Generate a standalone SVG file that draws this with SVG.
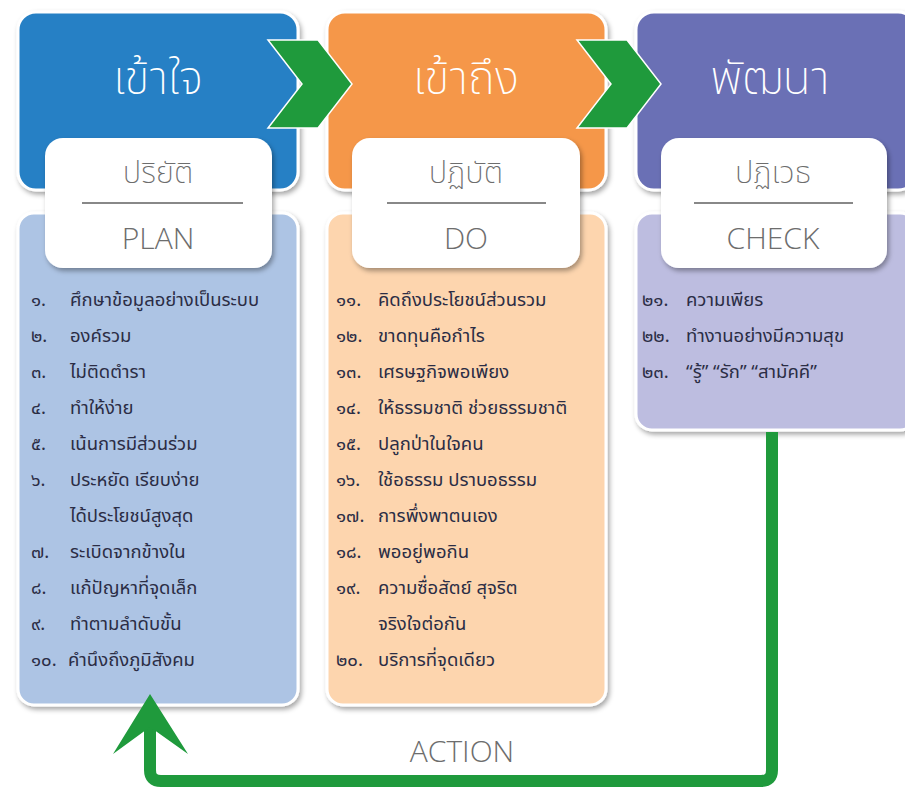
<svg xmlns="http://www.w3.org/2000/svg" width="905" height="793" viewBox="0 0 905 793">
<defs>
<filter id="sh" x="-10%" y="-10%" width="130%" height="130%">
<feDropShadow dx="2" dy="3" stdDeviation="2.5" flood-color="#000" flood-opacity="0.35"/>
</filter>
<style>
.hdr{stroke:#fff;stroke-width:3;filter:url(#sh)}
.card{fill:#fff;filter:url(#sh)}
.big{font-family:"Noto Sans Thai","Noto Sans","DejaVu Sans",sans-serif;font-size:46px;font-weight:200;fill:#fff;text-anchor:middle}
.sub{font-family:"Noto Sans Thai","Noto Sans","DejaVu Sans",sans-serif;font-size:31px;font-weight:200;fill:#6d6d6d;text-anchor:middle}
.en{font-family:"Open Sans","Liberation Sans",sans-serif;font-size:30px;font-weight:300;fill:#6d6d6d;text-anchor:middle}
.it{font-family:"Noto Sans Thai","Noto Sans","DejaVu Sans",sans-serif;font-size:18.5px;fill:#2b2d45}
.div{stroke:#888;stroke-width:2}
.chev{fill:#1f9a3c;stroke:#fff;stroke-width:1.5}
</style>
</defs>
<g id="panel-plan">
<rect class="hdr" x="18" y="213" width="280" height="492" rx="16" fill="#adc4e4"/>
<g class="it">
<text x="31" y="306">๑.</text><text x="70" y="306">ศึกษาข้อมูลอย่างเป็นระบบ</text>
<text x="31" y="342">๒.</text><text x="70" y="342">องค์รวม</text>
<text x="31" y="378">๓.</text><text x="70" y="378">ไม่ติดตำรา</text>
<text x="31" y="414">๔.</text><text x="70" y="414">ทำให้ง่าย</text>
<text x="31" y="450">๕.</text><text x="70" y="450">เน้นการมีส่วนร่วม</text>
<text x="31" y="486">๖.</text><text x="70" y="486">ประหยัด เรียบง่าย</text>
<text x="70" y="522">ได้ประโยชน์สูงสุด</text>
<text x="31" y="558">๗.</text><text x="70" y="558">ระเบิดจากข้างใน</text>
<text x="31" y="594">๘.</text><text x="70" y="594">แก้ปัญหาที่จุดเล็ก</text>
<text x="31" y="630">๙.</text><text x="70" y="630">ทำตามลำดับขั้น</text>
<text x="31" y="666">๑๐.</text><text x="68" y="666">คำนึงถึงภูมิสังคม</text>
</g>
</g>
<g id="panel-do">
<rect class="hdr" x="327" y="213" width="279" height="492" rx="16" fill="#fdd5ae"/>
<g class="it">
<text x="336" y="306">๑๑.</text><text x="378" y="306">คิดถึงประโยชน์ส่วนรวม</text>
<text x="336" y="342">๑๒.</text><text x="378" y="342">ขาดทุนคือกำไร</text>
<text x="336" y="378">๑๓.</text><text x="378" y="378">เศรษฐกิจพอเพียง</text>
<text x="336" y="414">๑๔.</text><text x="378" y="414">ให้ธรรมชาติ ช่วยธรรมชาติ</text>
<text x="336" y="450">๑๕.</text><text x="378" y="450">ปลูกป่าในใจคน</text>
<text x="336" y="486">๑๖.</text><text x="378" y="486">ใช้อธรรม ปราบอธรรม</text>
<text x="336" y="522">๑๗.</text><text x="378" y="522">การพึ่งพาตนเอง</text>
<text x="336" y="558">๑๘.</text><text x="378" y="558">พออยู่พอกิน</text>
<text x="336" y="594">๑๙.</text><text x="378" y="594">ความซื่อสัตย์ สุจริต</text>
<text x="378" y="630">จริงใจต่อกัน</text>
<text x="336" y="666">๒๐.</text><text x="378" y="666">บริการที่จุดเดียว</text>
</g>
</g>
<g id="panel-check">
<rect class="hdr" x="636" y="213" width="280" height="217" rx="16" fill="#bdbde0"/>
<g class="it">
<text x="642" y="306">๒๑.</text><text x="686" y="306">ความเพียร</text>
<text x="642" y="342">๒๒.</text><text x="686" y="342">ทำงานอย่างมีความสุข</text>
<text x="642" y="378">๒๓.</text><text x="686" y="378">“รู้”  “รัก”  “สามัคคี”</text>
</g>
</g>
<g id="head-plan">
<rect class="hdr" x="18" y="12" width="280" height="178" rx="18" fill="#2680c5"/>
<text class="big" x="158" y="94">เข้าใจ</text>
</g>
<g id="head-do">
<rect class="hdr" x="327" y="12" width="279" height="178" rx="18" fill="#f5974a"/>
<text class="big" x="466" y="94">เข้าถึง</text>
</g>
<g id="head-check">
<rect class="hdr" x="636" y="12" width="280" height="178" rx="18" fill="#6a6fb5"/>
<text class="big" x="770" y="94">พัฒนา</text>
</g>
<g id="card-plan">
<rect class="card" x="45" y="138" width="227" height="130" rx="18"/>
<text class="sub" x="158" y="183">ปริยัติ</text>
<line class="div" x1="82" y1="203" x2="243" y2="203"/>
<text class="en" x="158" y="249">PLAN</text>
</g>
<g id="card-do">
<rect class="card" x="352" y="138" width="228" height="130" rx="18"/>
<text class="sub" x="466" y="183">ปฏิบัติ</text>
<line class="div" x1="387" y1="203" x2="546" y2="203"/>
<text class="en" x="466" y="249">DO</text>
</g>
<g id="card-check">
<rect class="card" x="661" y="138" width="226" height="130" rx="18"/>
<text class="sub" x="773" y="183">ปฏิเวธ</text>
<line class="div" x1="694" y1="203" x2="853" y2="203"/>
<text class="en" x="773" y="249">CHECK</text>
</g>
<g id="connectors">
<path d="M772,432 V770 Q772,781 761,781 H161 Q150,781 150,770 V715" fill="none" stroke="#1f9a3c" stroke-width="12"/>
<polygon points="150,694 188,754 150,727 113,754" fill="#1f9a3c"/>
<polygon class="chev" points="268,40 318,40 352,84 318,128 268,128 302,84"/>
<polygon class="chev" points="577,40 627,40 661,84 627,128 577,128 611,84"/>
</g>
<text class="en" x="462" y="762" font-size="38">ACTION</text>
</svg>
